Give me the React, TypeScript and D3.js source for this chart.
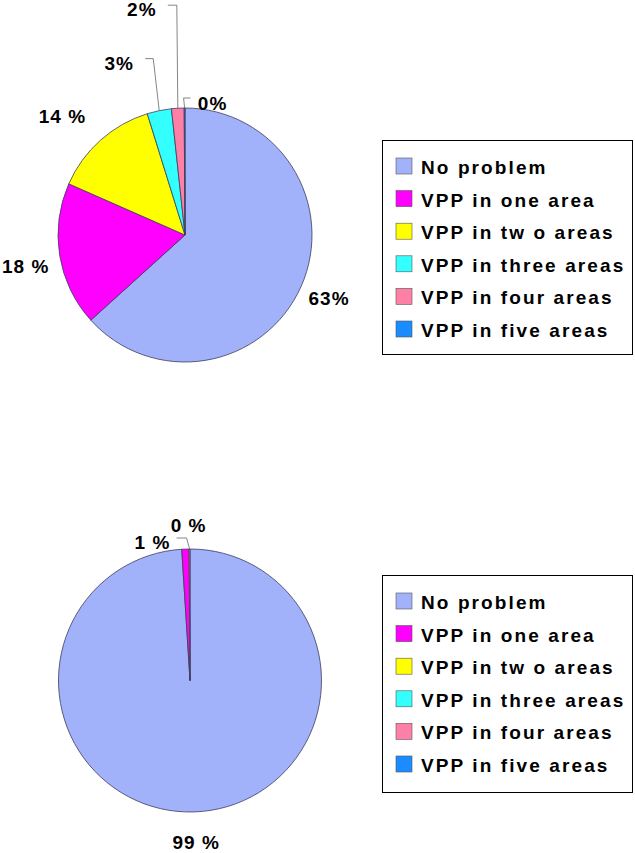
import * as d3 from "d3";

const categories = [
  "No problem",
  "VPP in one area",
  "VPP in tw o areas",
  "VPP in three areas",
  "VPP in four areas",
  "VPP in five areas",
];
const colors = ["#a2b2fa", "#ff00ff", "#ffff00", "#33ffff", "#ff80a6", "#1a8cff"];

// top pie
const topValues = [63.3, 18.3, 13.6, 3.1, 1.6, 0.1];
const topLabels = ["63%", "18 %", "14 %", "3%", "2%", "0%"];
// bottom pie
const bottomValues = [99, 0.9, 0.1, 0, 0, 0];
const bottomLabels = ["99 %", "1 %", "0 %", "", "", ""];

// label placement relative to the slice's outer edge point (dx, dy), optional leader elbow/end
type LabelLayout = { label: [number, number]; leader?: [number, number][] } | null;
const topLayout: LabelLayout[] = [
  { label: [28, 12] },
  { label: [-34, 11] },
  { label: [-38, -24] },
  { label: [-40, -47], leader: [[-6, -52], [-14, -52]] },
  { label: [-36, -99], leader: [[-1, -103], [-10, -103]] },
  { label: [28, -5], leader: [[-1, -10], [6, -10]] },
];
const bottomLayout: LabelLayout[] = [
  { label: [2, 31] },
  { label: [-33, -7] },
  { label: [-1, -24], leader: [[-3, -11], [-13, -11]] },
  null,
  null,
  null,
];

function Pie({ cx, cy, r, values, labels, layout }: {
  cx: number; cy: number; r: number; values: number[]; labels: string[]; layout: LabelLayout[];
}) {
  const arcs = d3.pie<number>().sort(null).value((d) => d)(values);
  const arc = d3.arc<d3.PieArcDatum<number>>().innerRadius(0).outerRadius(r);
  const edge = (a: d3.PieArcDatum<number>) => {
    const m = (a.startAngle + a.endAngle) / 2;
    return [Math.sin(m) * r, -Math.cos(m) * r];
  };
  return (
    <g transform={`translate(${cx},${cy})`}>
      {arcs.map((a, i) =>
        a.endAngle - a.startAngle > 0 ? (
          <path key={i} d={arc(a) || ""} fill={colors[i]} stroke="#3c3c5c" strokeWidth={0.8} strokeLinejoin="round" />
        ) : null
      )}
      {arcs.map((a, i) => {
        const lay = layout[i];
        if (!lay || !labels[i]) return null;
        const [ex, ey] = edge(a);
        const pts = lay.leader ? [[ex, ey], ...lay.leader.map(([x, y]) => [ex + x, ey + y])] : null;
        return (
          <g key={"l" + i}>
            {pts && (
              <polyline
                points={pts.map((p) => p.join(",")).join(" ")}
                fill="none"
                stroke="#666"
                strokeWidth={0.8}
              />
            )}
            <text
              x={ex + lay.label[0]}
              y={ey + lay.label[1]}
              textAnchor="middle"
              dominantBaseline="central"
              fontSize={19}
              fontWeight="bold"
              letterSpacing={1}
              fill="#000"
            >
              {labels[i]}
            </text>
          </g>
        );
      })}
    </g>
  );
}

function Legend({ x, y, w, h }: { x: number; y: number; w: number; h: number }) {
  const row = d3.scaleLinear().domain([0, 1]).range([0, 32.6]);
  return (
    <g transform={`translate(${x},${y})`}>
      <rect x={0.5} y={0.5} width={w} height={h} fill="#fff" stroke="#000" strokeWidth={1} />
      {categories.map((c, i) => (
        <g key={c} transform={`translate(14,${18 + row(i)})`}>
          <rect x={0} y={0} width={16} height={16} fill={colors[i]} stroke="#555" strokeWidth={0.6} />
          <text x={25} y={16} fontSize={19} fontWeight="bold" letterSpacing={2.1} fill="#000">
            {c}
          </text>
        </g>
      ))}
    </g>
  );
}

export default function App() {
  return (
    <svg
      width={635}
      height={853}
      style={{ position: "absolute", left: 0, top: 0, background: "#fff" }}
      fontFamily="'Liberation Sans', Arial, sans-serif"
    >
      <Pie cx={185} cy={235} r={127} values={topValues} labels={topLabels} layout={topLayout} />
      <Legend x={382} y={140} w={250} h={214} />
      <Pie cx={190} cy={680.5} r={131.5} values={bottomValues} labels={bottomLabels} layout={bottomLayout} />
      <Legend x={382} y={575} w={250} h={217} />
    </svg>
  );
}
